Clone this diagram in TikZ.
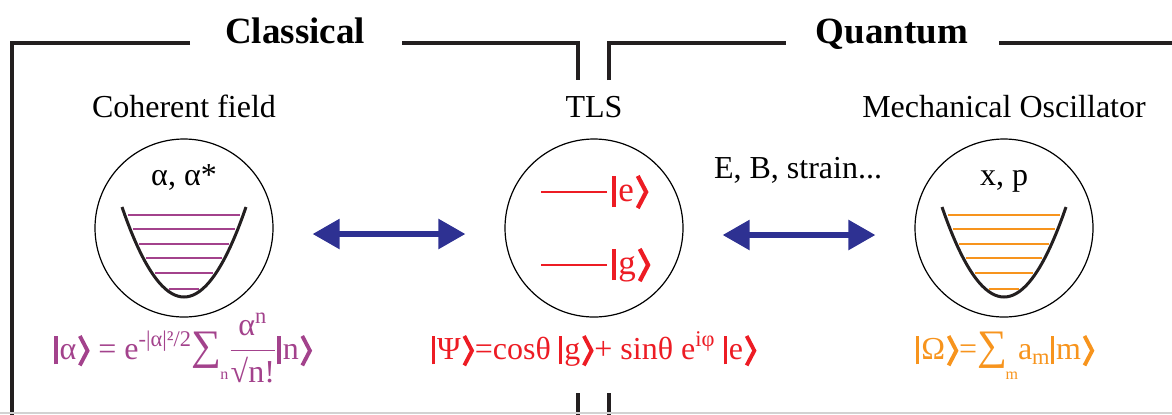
\documentclass[tikz,border=0pt]{standalone}
\usepackage{fontspec}
\usepackage{amsmath}
\setmainfont{Liberation Serif}
\usetikzlibrary{arrows.meta,calc}
\definecolor{frameclr}{HTML}{231F20}
\definecolor{fieldclr}{HTML}{A3428C}
\definecolor{tlsclr}{HTML}{ED1C24}
\definecolor{mechclr}{HTML}{F7941D}
\definecolor{linkclr}{HTML}{2E3192}
\newcommand{\kbar}{\rule[-0.17em]{0.11em}{0.9em}\hspace{0.06em}}
\newcommand{\kend}{\hspace{0.05em}\tikz[baseline=0pt]\draw[line width=0.12em] (0,0.72em) -- (0.24em,0.26em) -- (0,-0.2em);\hspace{0.03em}}
\newcommand{\qket}[1]{\kbar#1\kend}
\newcommand{\bigsum}{{\fontsize{21}{21}\selectfont∑}}
\tikzset{
  frame/.style   = {draw=frameclr, line width=2.2pt, line join=miter},
  heading/.style = {font=\fontsize{18.5}{20}\selectfont\bfseries, anchor=base, inner sep=0pt},
  sysname/.style = {font=\fontsize{16}{18}\selectfont, anchor=base, inner sep=0pt},
  system/.style  = {draw, circle, line width=0.6pt, minimum size=89pt, inner sep=0pt},
  well/.style    = {line width=1.5pt, draw=frameclr},
  rung/.style    = {line width=1.2pt},
  couple/.style  = {{Triangle[length=13.5pt,width=14.5pt]}-{Triangle[length=13.5pt,width=14.5pt]},
                    line width=2.8pt, draw=linkclr, shorten <=19.5pt, shorten >=19.5pt},
  ketline/.style = {font=\fontsize{16}{18}\selectfont, anchor=base, inner sep=0pt},
}

\begin{document}
\begin{tikzpicture}[x=0.5pt, y=-0.5pt]
\useasboundingbox (0,0) rectangle (1172,414);

%% frames
\node[heading] (classical) at (295,43) {Classical};
\node[heading] (quantum) at (892,43) {Quantum};
\draw[frame] (190,43) -- (12,43) -- (12,416);
\draw[frame] (402,43) -- (578,43) -- (578,80);
\draw[frame] (609,80) -- (609,43) -- (786,43);
\draw[frame] (999,43) -- (1174,43);
\draw[frame] (578,393) -- (578,416);
\draw[frame] (609,393) -- (609,416);
\draw[gray!35, line width=0.6pt] (0,413) -- (1172,413);

%% systems
\node[system] (field) at (184,228) {};
\node[system] (tls)   at (594,228) {};
\node[system] (mech)  at (1004,228) {};

\node[sysname] (fieldname) at (184,117) {Coherent field};
\node[sysname] (tlsname)   at (594,117) {TLS};
\node[sysname] (mechname)  at (1004,117) {Mechanical Oscillator};

\node[sysname] (fieldvars) at (184,185) {α, α*};
\node[sysname] (mechvars)  at (1004,185) {x, p};

%% potential wells
\foreach \osc/\clr in {field/fieldclr, mech/mechclr}{
  \begin{scope}[shift={(\osc.center)}]
    \foreach \ly in {-13,1,16,30,45,61}{
      \pgfmathsetmacro\hw{62*sqrt((69-\ly)/90)-3}
      \draw[rung, draw=\clr] (-\hw,\ly) -- (\hw,\ly);
    }
    \draw[well] plot[domain=-62:62, samples=41, smooth] (\x,{69-90*(\x/62)^2});
  \end{scope}
}

%% two-level system
\node[ketline, text=tlsclr, anchor=west, font=\fontsize{17.5}{18}\selectfont] (exc) at (612,192) {\qket{e}};
\node[ketline, text=tlsclr, anchor=west, font=\fontsize{17.5}{18}\selectfont] (gnd) at (612,265) {\qket{g}};
\draw[rung, draw=tlsclr, line width=1pt] ([xshift=-2.5pt]exc.west) -- ++(-66,0);
\draw[rung, draw=tlsclr, line width=1pt] ([xshift=-2.5pt]gnd.west) -- ++(-66,0);

%% couplings
\draw[couple] ([yshift=-3pt]field.east) -- ([yshift=-3pt]tls.west);
\draw[couple] ([yshift=-3.5pt]tls.east) -- ([yshift=-3.5pt]mech.west);
\node[sysname] (handles) at (798,178) {E, B, strain...};

%% states
\node[ketline, text=fieldclr] (fieldstate) at (183,359)
  {\qket{α} = e\textsuperscript{-|α|²/2}\bigsum\hspace{-0.05em}\raisebox{-1.4ex}{\footnotesize n}$\dfrac{\text{α}^{\text{n}}}{\text{√n!}}$\qket{n}};
\node[ketline, text=tlsclr] (tlsstate) at (594,359)
  {\qket{Ψ}=cosθ \qket{g}+ sinθ e\textsuperscript{iφ} \qket{e}};
\node[ketline, text=mechclr] (mechstate) at (1005,359)
  {\qket{Ω}=\bigsum\hspace{-0.05em}\raisebox{-1.4ex}{\footnotesize m}a\textsubscript{m}\qket{m}};

\end{tikzpicture}
\end{document}
